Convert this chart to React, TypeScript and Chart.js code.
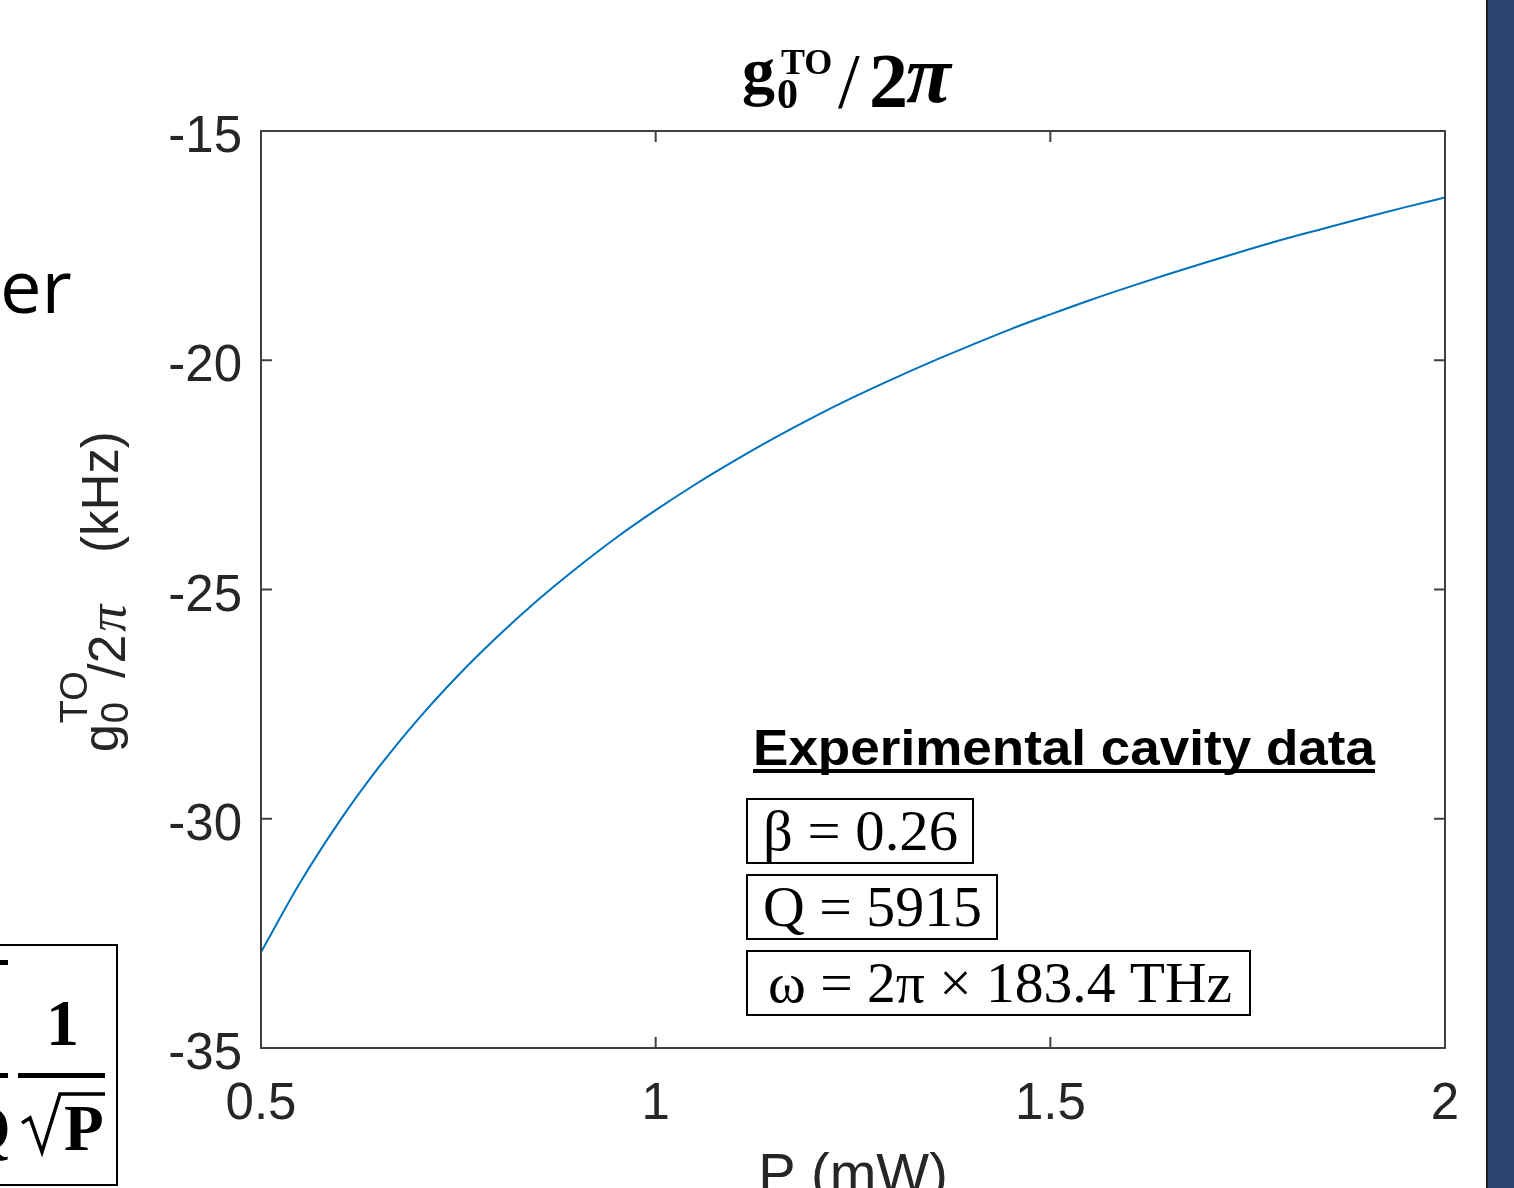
import React, { useEffect, useRef } from "react";
import { Chart, registerables } from "chart.js";

Chart.register(...registerables);

// ---- data ----
const POWER_MW = [
  0.5, 0.55, 0.6, 0.65, 0.7, 0.75, 0.8, 0.85, 0.9, 0.95, 1.0,
  1.05, 1.1, 1.15, 1.2, 1.25, 1.3, 1.35, 1.4, 1.45, 1.5,
  1.55, 1.6, 1.65, 1.7, 1.75, 1.8, 1.85, 1.9, 1.95, 2.0,
];
const G0_KHZ = [
  -32.91, -31.38, -30.04, -28.86, -27.81, -26.87, -26.02, -25.24, -24.53, -23.87, -23.27,
  -22.71, -22.19, -21.7, -21.24, -20.81, -20.41, -20.03, -19.67, -19.32, -19.0,
  -18.69, -18.4, -18.12, -17.85, -17.59, -17.34, -17.11, -16.88, -16.66, -16.45,
];
const X_TICKS = [0.5, 1, 1.5, 2];
const X_TICK_LABELS = ["0.5", "1", "1.5", "2"];
const Y_TICKS = [-35, -30, -25, -20, -15];
const Y_TICK_LABELS = ["-35", "-30", "-25", "-20", "-15"];
const X_TITLE = "P (mW)";
const INSET_TITLE = "Experimental cavity data";
const PARAM_LINES = ["β = 0.26", "Q = 5915", "ω = 2π × 183.4 THz"];

const AXIS_COLOR = "#262626";
const SANS = '"Liberation Sans", Arial, sans-serif';
const SERIF = '"Liberation Serif", "Times New Roman", serif';

function piece(ctx: CanvasRenderingContext2D, text: string, font: string, x: number, y: number) {
  ctx.font = font;
  ctx.fillText(text, x, y);
  return x + ctx.measureText(text).width;
}

function fitText(ctx: CanvasRenderingContext2D, text: string, font: string, x: number, y: number, width: number) {
  ctx.font = font;
  const w = ctx.measureText(text).width;
  ctx.save();
  ctx.translate(x, y);
  ctx.scale(width / w, 1);
  ctx.fillText(text, 0, 0);
  ctx.restore();
}

const decorPlugin = {
  id: "decor",
  afterDraw(chart: any) {
    const ctx: CanvasRenderingContext2D = chart.ctx;
    const { left, right, top, bottom } = chart.chartArea;
    const xs = chart.scales.x;
    const ys = chart.scales.y;
    ctx.save();

    // axes box and inward ticks
    ctx.strokeStyle = "#404040";
    ctx.lineWidth = 2;
    ctx.strokeRect(left, top, right - left, bottom - top);
    ctx.beginPath();
    X_TICKS.forEach((v) => {
      const px = xs.getPixelForValue(v);
      ctx.moveTo(px, bottom);
      ctx.lineTo(px, bottom - 11);
      ctx.moveTo(px, top);
      ctx.lineTo(px, top + 11);
    });
    Y_TICKS.forEach((v) => {
      const py = ys.getPixelForValue(v);
      ctx.moveTo(left, py);
      ctx.lineTo(left + 11, py);
      ctx.moveTo(right, py);
      ctx.lineTo(right - 11, py);
    });
    ctx.stroke();

    // tick labels
    ctx.fillStyle = AXIS_COLOR;
    ctx.textBaseline = "alphabetic";
    ctx.font = `51px ${SANS}`;
    ctx.textAlign = "right";
    Y_TICKS.forEach((v, i) => {
      ctx.fillText(Y_TICK_LABELS[i], left - 19, ys.getPixelForValue(v) + 21);
    });
    ctx.textAlign = "center";
    X_TICKS.forEach((v, i) => {
      ctx.fillText(X_TICK_LABELS[i], xs.getPixelForValue(v), bottom + 71);
    });
    ctx.font = `56px ${SANS}`;
    ctx.fillText(X_TITLE, (left + right) / 2, bottom + 144);
    ctx.textAlign = "left";

    // title g0^TO / 2π
    ctx.fillStyle = "#000";
    let x = piece(ctx, "g", `bold 66px ${SERIF}`, 742, 93);
    piece(ctx, "0", `bold 42px ${SERIF}`, x + 2, 108);
    piece(ctx, "TO", `bold 36px ${SERIF}`, x + 6, 74);
    x = piece(ctx, "/", `78px ${SERIF}`, 838, 107);
    x = piece(ctx, "2", `bold 78px ${SERIF}`, 869, 107);
    piece(ctx, "π", `bold italic 82px ${SERIF}`, x - 2, 102);

    // y-axis label (rotated, reads bottom to top)
    ctx.save();
    ctx.fillStyle = AXIS_COLOR;
    ctx.translate(118, 752);
    ctx.rotate(-Math.PI / 2);
    const gEnd = piece(ctx, "g", `50px ${SANS}`, 0, 0);
    piece(ctx, "0", `38px ${SANS}`, gEnd + 1, 10);
    piece(ctx, "TO", `38px ${SANS}`, gEnd + 1, -31);
    const sEnd = piece(ctx, "/2", `52px ${SANS}`, 74, 7);
    piece(ctx, "π", `italic 54px ${SERIF}`, sEnd + 3, 7);
    piece(ctx, "(kHz)", `51px ${SANS}`, 199, 0);
    ctx.restore();

    // inset: experimental data
    ctx.fillStyle = "#000";
    fitText(ctx, INSET_TITLE, `bold 50px ${SANS}`, 753, 765, 622);
    ctx.fillRect(753, 769, 622, 4);

    const boxes = [
      { x: 747, y: 799, w: 226, h: 64, tx: 763, tw: 195 },
      { x: 747, y: 875, w: 250, h: 64, tx: 763, tw: 219 },
      { x: 747, y: 951, w: 503, h: 64, tx: 768, tw: 464 },
    ];
    ctx.strokeStyle = "#000";
    ctx.lineWidth = 2;
    boxes.forEach((b, i) => {
      ctx.strokeRect(b.x, b.y, b.w, b.h);
      fitText(ctx, PARAM_LINES[i], `56px ${SERIF}`, b.tx, b.y + 51, b.tw);
    });

    // left slide fragments
    ctx.fillStyle = "#000";
    ctx.font = `74px "Open Sans", sans-serif`;
    ctx.fillText("er", 0, 313);

    ctx.strokeRect(-10, 945, 127, 240);
    ctx.fillRect(0, 960, 8, 5);
    ctx.fillRect(0, 1073, 8, 5);
    ctx.fillRect(18, 1073, 87, 5);
    piece(ctx, "1", `bold 66px ${SERIF}`, 46, 1045);
    piece(ctx, "P", `bold 65px ${SERIF}`, 64, 1150);
    ctx.lineWidth = 3.5;
    ctx.beginPath();
    ctx.moveTo(22, 1123);
    ctx.lineTo(30, 1118);
    ctx.lineTo(42, 1152);
    ctx.lineTo(60, 1094);
    ctx.lineTo(105, 1094);
    ctx.stroke();
    piece(ctx, "Q", `bold 65px ${SERIF}`, -40, 1150);

    // dark slide edge on the right
    ctx.fillStyle = "#2a4472";
    ctx.fillRect(1486, 0, 28, 1188);
    ctx.fillStyle = "#1e1e1e";
    ctx.fillRect(1486, 0, 2, 1188);

    ctx.restore();
  },
};

export default function App() {
  const ref = useRef<HTMLCanvasElement | null>(null);

  useEffect(() => {
    if (!ref.current) return;
    const chart = new Chart(ref.current, {
      type: "line",
      data: {
        datasets: [
          {
            data: POWER_MW.map((p, i) => ({ x: p, y: G0_KHZ[i] })),
            borderColor: "#0072BD",
            borderWidth: 2,
            pointRadius: 0,
            fill: false,
            cubicInterpolationMode: "monotone",
          },
        ],
      },
      options: {
        responsive: false,
        animation: false,
        devicePixelRatio: 1,
        layout: { padding: { top: 131, right: 69, left: 0, bottom: 0 } },
        plugins: { legend: { display: false }, tooltip: { enabled: false }, title: { display: false } },
        scales: {
          x: {
            type: "linear",
            min: 0.5,
            max: 2,
            afterBuildTicks: (s: any) => {
              s.ticks = X_TICKS.map((v) => ({ value: v }));
            },
            afterFit: (s: any) => {
              s.height = 140;
            },
            grid: { display: false, drawTicks: false },
            border: { display: false },
            ticks: { display: false },
          },
          y: {
            type: "linear",
            min: -35,
            max: -15,
            afterBuildTicks: (s: any) => {
              s.ticks = Y_TICKS.map((v) => ({ value: v }));
            },
            afterFit: (s: any) => {
              s.width = 261;
            },
            grid: { display: false, drawTicks: false },
            border: { display: false },
            ticks: { display: false },
          },
        },
      },
      plugins: [decorPlugin],
    } as any);
    return () => chart.destroy();
  }, []);

  return (
    <div style={{ position: "fixed", left: 0, top: 0, width: 1514, height: 1188, background: "#fff", overflow: "hidden" }}>
      <canvas ref={ref} width={1514} height={1188} style={{ width: 1514, height: 1188, display: "block" }} />
    </div>
  );
}
